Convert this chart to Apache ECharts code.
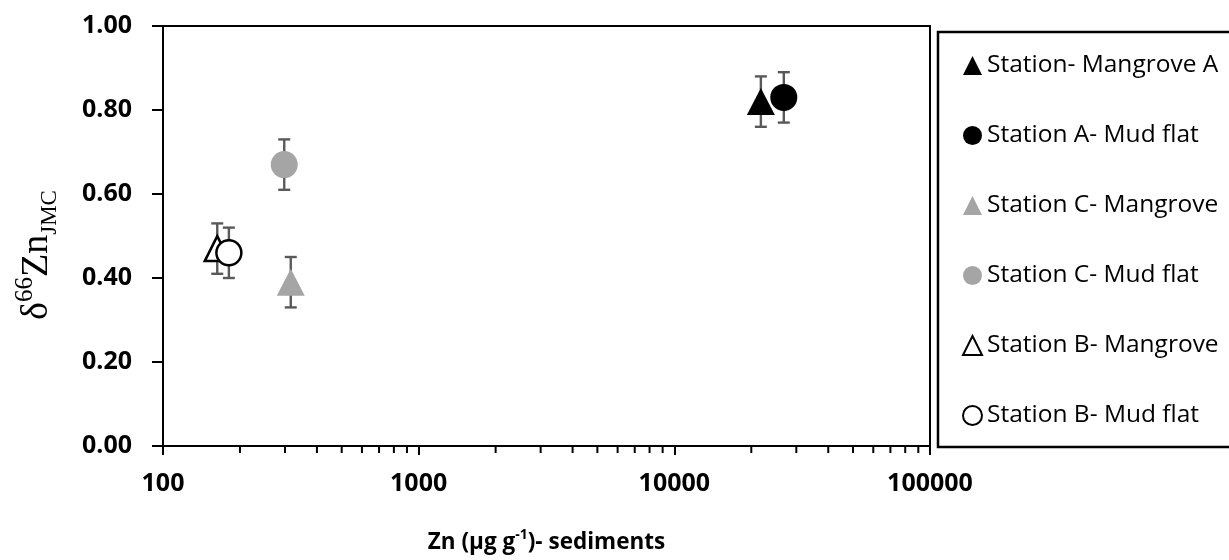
<!DOCTYPE html>
<html>
<head>
<meta charset="utf-8">
<script src="https://cdn.jsdelivr.net/npm/echarts@6/dist/echarts.min.js"></script>
<style>
html,body{margin:0;padding:0;background:#fff;}
#chart{width:1229px;height:560px;}
</style>
</head>
<body>
<div id="chart"></div>
<script>
// ---- data ----
const stations = ['Station- Mangrove A', 'Station A- Mud flat', 'Station C- Mangrove', 'Station C- Mud flat', 'Station B- Mangrove', 'Station B- Mud flat'];
const znValues = [21800, 26800, 316, 298, 163, 181];
const deltaValues = [0.82, 0.83, 0.39, 0.67, 0.47, 0.46];
const deltaErrors = [0.06, 0.06, 0.06, 0.06, 0.06, 0.06];
const xMajorTicks = [100, 1000, 10000, 100000];
const xMinorTicks = [200, 300, 400, 500, 600, 700, 800, 900, 2000, 3000, 4000, 5000, 6000, 7000, 8000, 9000, 20000, 30000, 40000, 50000, 60000, 70000, 80000, 90000];
const yTicks = [0, 0.2, 0.4, 0.6, 0.8, 1.0];

// ---- styles ----
const markerStyles = [
  {symbol: 'triangle', size: [28, 27], color: '#000000', border: '#000000', bw: 0},
  {symbol: 'circle', size: 27, color: '#000000', border: '#000000', bw: 0},
  {symbol: 'triangle', size: [28, 27], color: '#A5A5A5', border: '#A5A5A5', bw: 0},
  {symbol: 'circle', size: 27, color: '#A5A5A5', border: '#A5A5A5', bw: 0},
  {symbol: 'triangle', size: [25, 25], color: '#FFFFFF', border: '#000000', bw: 2.5},
  {symbol: 'circle', size: 25, color: '#FFFFFF', border: '#000000', bw: 2.5}
];

const chart = echarts.init(document.getElementById('chart'), null, {renderer: 'canvas'});

const scatterSeries = stations.map((name, i) => ({
  name: name,
  type: 'scatter',
  xAxisIndex: 0, yAxisIndex: 0,
  symbol: markerStyles[i].symbol,
  symbolSize: markerStyles[i].size,
  z: 5,
  itemStyle: {color: markerStyles[i].color, borderColor: markerStyles[i].border, borderWidth: markerStyles[i].bw, opacity: 1},
  emphasis: {disabled: true},
  data: [[znValues[i], deltaValues[i]]]
}));

const errorData = stations.map((n, i) => [znValues[i], deltaValues[i] - deltaErrors[i], deltaValues[i] + deltaErrors[i]]);

const errorSeries = {
  type: 'custom',
  name: 'errors',
  xAxisIndex: 0, yAxisIndex: 0,
  z: 3,
  silent: true,
  clip: false,
  data: errorData,
  renderItem: function (params, api) {
    const x = api.value(0);
    const lo = api.coord([x, api.value(1)]);
    const hi = api.coord([x, api.value(2)]);
    const cw = 6;
    const st = {stroke: '#595959', lineWidth: 2.4};
    return {
      type: 'group',
      children: [
        {type: 'line', shape: {x1: lo[0], y1: lo[1], x2: hi[0], y2: hi[1]}, style: st},
        {type: 'line', shape: {x1: lo[0] - cw, y1: lo[1], x2: lo[0] + cw, y2: lo[1]}, style: st},
        {type: 'line', shape: {x1: hi[0] - cw, y1: hi[1], x2: hi[0] + cw, y2: hi[1]}, style: st}
      ]
    };
  }
};

const minorTickSeries = {
  type: 'custom',
  name: 'minorTicks',
  xAxisIndex: 0, yAxisIndex: 0,
  z: 4,
  silent: true,
  clip: false,
  data: xMinorTicks.map(v => [v, 0]),
  renderItem: function (params, api) {
    const p = api.coord([api.value(0), api.value(1)]);
    return {type: 'line', shape: {x1: p[0], y1: p[1], x2: p[0], y2: p[1] + 7}, style: {stroke: '#000', lineWidth: 2}};
  }
};

const option = {
  backgroundColor: '#ffffff',
  animation: false,
  grid: {left: 163, right: 299, top: 26, bottom: 114, containLabel: false},
  xAxis: [{
    type: 'log', logBase: 10, min: xMajorTicks[0], max: xMajorTicks[xMajorTicks.length - 1],
    position: 'bottom',
    axisLine: {show: true, onZero: false, lineStyle: {color: '#000', width: 2}},
    axisTick: {show: true, length: 9, lineStyle: {color: '#000', width: 2}},
    minorTick: {show: false},
    splitLine: {show: false},
    axisLabel: {margin: 25, fontFamily: 'Open Sans', fontWeight: 'bold', fontSize: 25, color: '#000',
      formatter: v => String(Math.round(v))},
    name: '{m|Zn (μg g}{s|-1}{m|)- sediments}',
    nameLocation: 'middle', nameGap: 82,
    nameTextStyle: {
      fontFamily: 'Open Sans', fontWeight: 'bold', fontSize: 22, color: '#000',
      rich: {
        m: {fontFamily: 'Open Sans', fontWeight: 'bold', fontSize: 22.5, color: '#000', lineHeight: 30, verticalAlign: 'middle'},
        s: {fontFamily: 'Open Sans', fontWeight: 'bold', fontSize: 14, color: '#000', lineHeight: 14, verticalAlign: 'top'}
      }
    }
  }, {
    type: 'log', logBase: 10, min: xMajorTicks[0], max: xMajorTicks[xMajorTicks.length - 1],
    position: 'top',
    axisLine: {show: true, onZero: false, lineStyle: {color: '#000', width: 2}},
    axisTick: {show: false}, axisLabel: {show: false}, splitLine: {show: false}
  }],
  yAxis: [{
    type: 'value', min: yTicks[0], max: yTicks[yTicks.length - 1], interval: 0.2,
    position: 'left',
    axisLine: {show: true, onZero: false, lineStyle: {color: '#000', width: 2}},
    axisTick: {show: true, length: 11, lineStyle: {color: '#000', width: 2}},
    splitLine: {show: false},
    axisLabel: {margin: 31, fontFamily: 'Open Sans', fontWeight: 'bold', fontSize: 25, color: '#000',
      formatter: v => v.toFixed(2)},
    name: '{d|δ}{s|66}{z|Zn}{b|JMC}',
    nameLocation: 'middle', nameRotate: 90, nameGap: 102,
    nameTextStyle: {
      fontFamily: 'Liberation Serif', color: '#000', padding: [0, 38, 0, 0],
      rich: {
        d: {fontFamily: 'Liberation Serif', fontSize: 38, lineHeight: 48, verticalAlign: 'middle', color: '#000'},
        s: {fontFamily: 'Liberation Serif', fontSize: 25, lineHeight: 24, verticalAlign: 'top', color: '#000'},
        z: {fontFamily: 'Liberation Serif', fontSize: 38, lineHeight: 48, verticalAlign: 'middle', color: '#000'},
        b: {fontFamily: 'Liberation Serif', fontSize: 23, lineHeight: 22, verticalAlign: 'bottom', color: '#000'}
      }
    }
  }, {
    type: 'value', min: yTicks[0], max: yTicks[yTicks.length - 1], interval: 0.2,
    position: 'right',
    axisLine: {show: true, onZero: false, lineStyle: {color: '#000', width: 2}},
    axisTick: {show: false}, axisLabel: {show: false}, splitLine: {show: false}
  }],
  legend: {
    orient: 'vertical', left: 962, top: 53, padding: 0,
    itemWidth: 19, itemHeight: 19, itemGap: 45,
    selectedMode: false,
    textStyle: {fontFamily: 'Open Sans', fontSize: 24.5, color: '#000'},
    data: stations
  },
  graphic: [{
    type: 'rect', silent: true, z: 0,
    shape: {x: 938, y: 32, width: 400, height: 415},
    style: {fill: 'transparent', stroke: '#000', lineWidth: 2.5}
  }],
  series: [errorSeries, minorTickSeries].concat(scatterSeries)
};

chart.setOption(option);
</script>
</body>
</html>
